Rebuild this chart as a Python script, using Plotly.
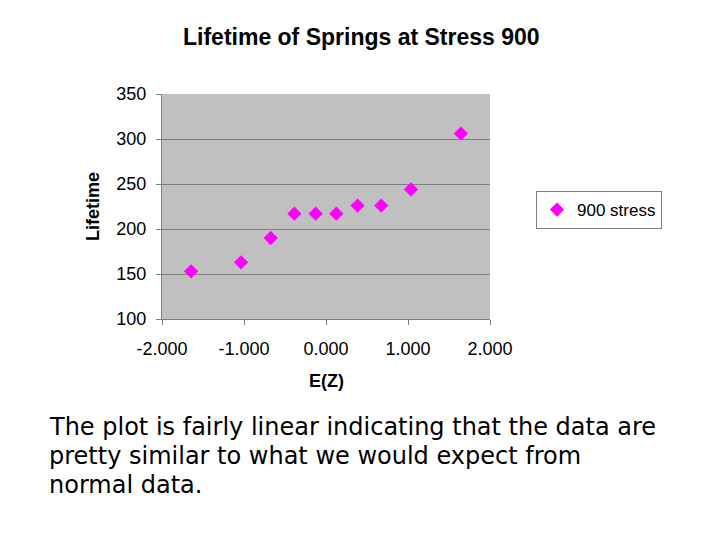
import plotly.graph_objects as go

ez = [-1.645, -1.036, -0.674, -0.385, -0.126, 0.126, 0.385, 0.674, 1.036, 1.645]
lifetime = [153, 163, 190, 217, 217, 217, 226, 226, 244, 306]
series_name = "900 stress"
title = "Lifetime of Springs at Stress 900"
x_title = "E(Z)"
y_title = "Lifetime"
x_ticks = [-2, -1, 0, 1, 2]
x_tick_labels = ["-2.000", "-1.000", "0.000", "1.000", "2.000"]
y_ticks = [100, 150, 200, 250, 300, 350]
caption_lines = ["The plot is fairly linear indicating that the data are",
                 "pretty similar to what we would expect from",
                 "normal data."]

L, T, R, B = 162, 94, 490, 319
W, H = 720, 540
pw, ph = R - L, B - T

def px(x):
    return (x - L) / pw

def py(y):
    return (B - y) / ph

fig = go.Figure()
fig.add_trace(go.Scatter(
    x=ez, y=lifetime, mode="markers", name=series_name,
    marker=dict(symbol="diamond", size=11, color="#FF00FF", line=dict(width=0)),
))

axfont = dict(family="Liberation Sans, Arial", size=18, color="black")
fig.update_layout(
    width=W, height=H,
    margin=dict(l=L, r=W - R, t=T, b=H - B),
    paper_bgcolor="white", plot_bgcolor="#C0C0C0",
    showlegend=True,
    legend=dict(x=px(536), y=py(191), xanchor="left", yanchor="top",
                bgcolor="white", bordercolor="#808080", borderwidth=1,
                font=dict(family="Liberation Sans, Arial", size=17, color="black"),
                itemwidth=30, tracegroupgap=0),
    xaxis=dict(range=[-2, 2], tickvals=x_ticks, ticktext=x_tick_labels,
               showgrid=False, zeroline=False, showline=True, linecolor="#808080",
               linewidth=1, ticks="outside", ticklen=5, tickcolor="#808080",
               tickfont=axfont, ticklabelstandoff=8),
    yaxis=dict(range=[100, 350], tickvals=y_ticks,
               showgrid=True, gridcolor="#808080", gridwidth=1, zeroline=False,
               showline=True, linecolor="#808080", linewidth=1, ticks="outside",
               ticklen=5, tickcolor="#808080", tickfont=axfont, ticklabelstandoff=6),
)

fig.add_annotation(text="<b>%s</b>" % title, x=px(361), y=py(37), xref="paper", yref="paper",
                   showarrow=False, font=dict(family="Liberation Sans, Arial", size=23, color="black"),
                   xanchor="center", yanchor="middle")
fig.add_annotation(text="<b>%s</b>" % x_title, x=px(326), y=py(381), xref="paper", yref="paper",
                   showarrow=False, font=dict(family="Liberation Sans, Arial", size=18, color="black"),
                   xanchor="center", yanchor="middle")
fig.add_annotation(text="<b>%s</b>" % y_title, x=px(93), y=py(207), xref="paper", yref="paper",
                   showarrow=False, textangle=-90,
                   font=dict(family="Liberation Sans, Arial", size=18, color="black"),
                   xanchor="center", yanchor="middle")
for i, line in enumerate(caption_lines):
    fig.add_annotation(text=line, x=px(47), y=py(427 + 29 * i), xref="paper", yref="paper",
                       showarrow=False, align="left",
                       font=dict(family="DejaVu Sans, Verdana", size=24, color="black"),
                       xanchor="left", yanchor="middle")

fig.write_html("out.html", config={"displayModeBar": False},
               post_script="document.body.style.margin='0';")
